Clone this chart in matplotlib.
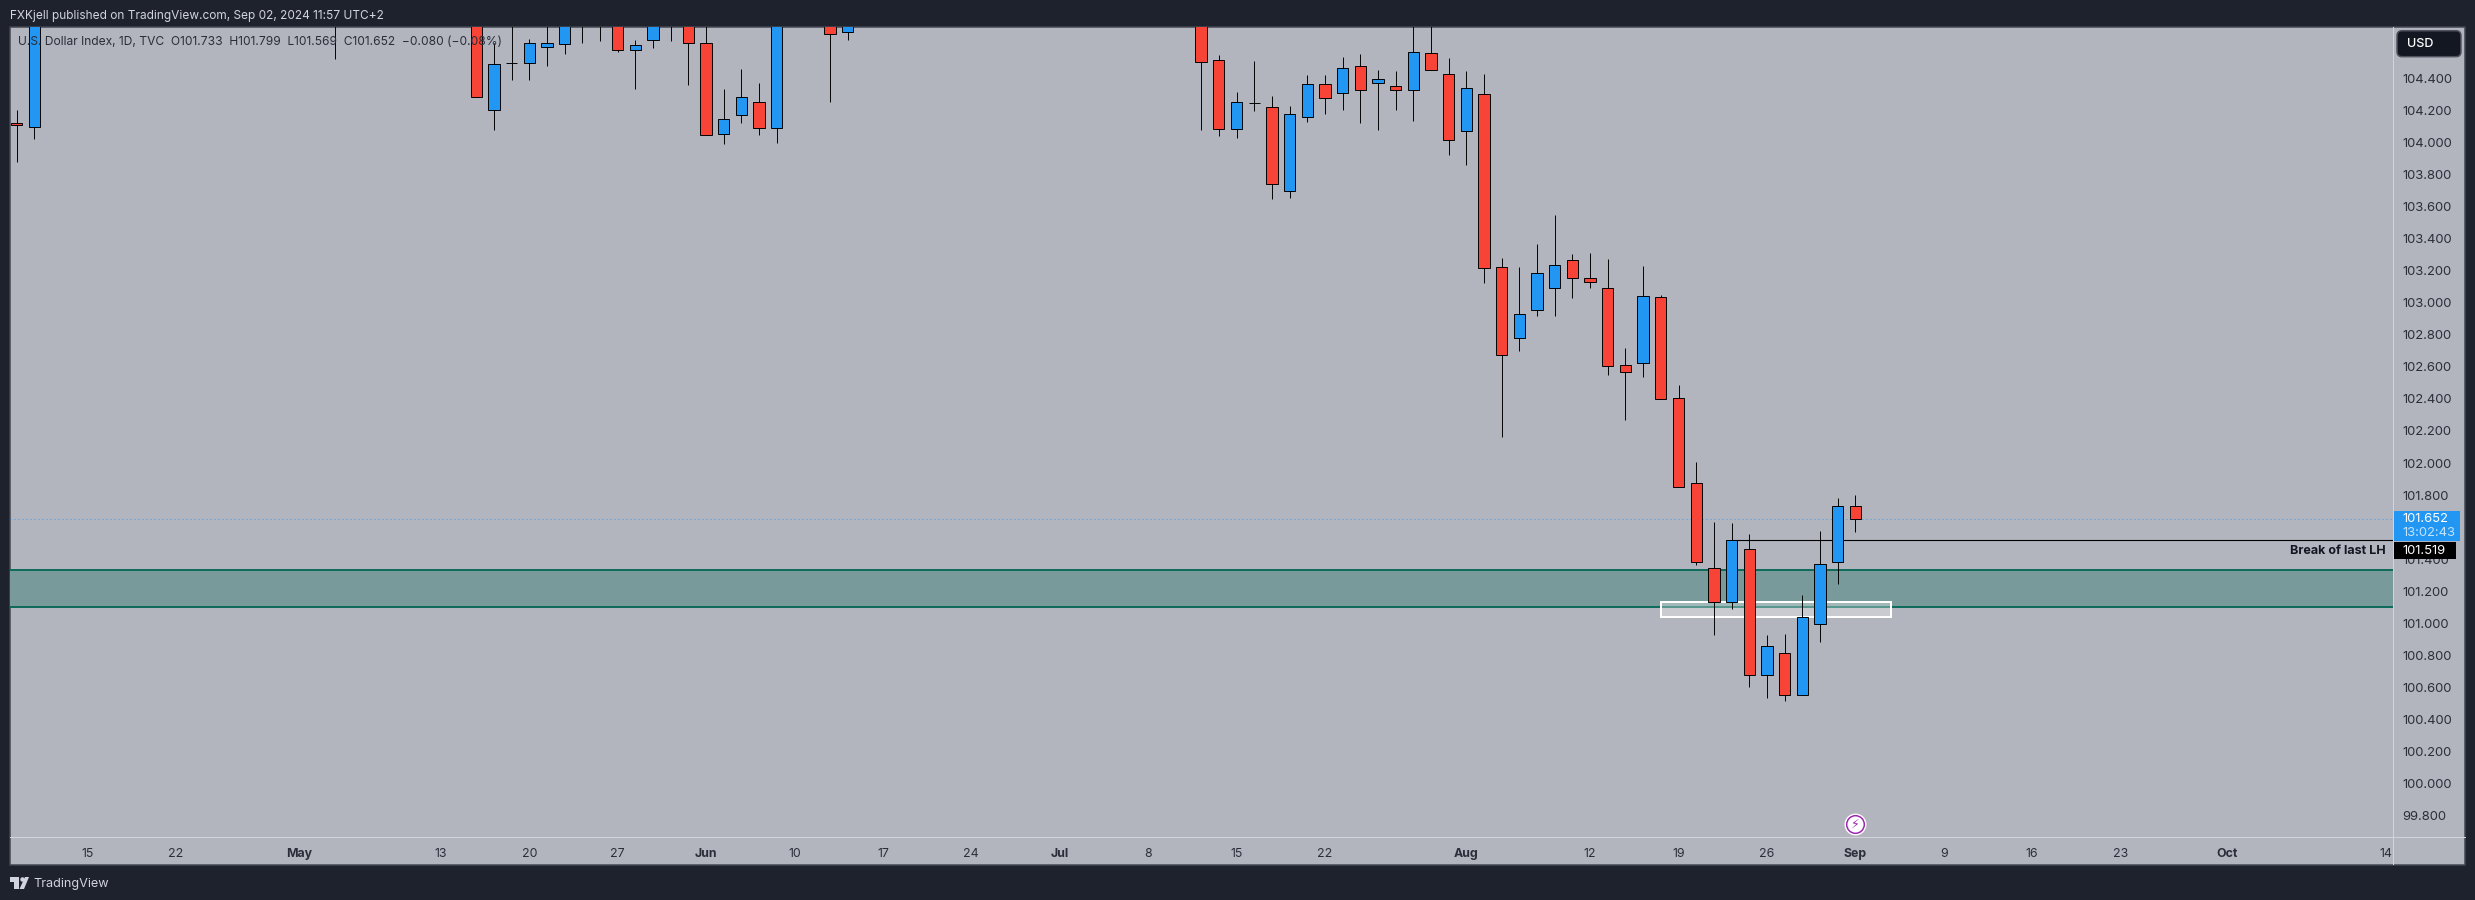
import numpy as np
import matplotlib
matplotlib.use("Agg")
import matplotlib.pyplot as plt
from matplotlib.lines import Line2D
from matplotlib.patches import Rectangle, FancyBboxPatch, Polygon

dates = ["2024-04-09","2024-04-10","2024-05-03","2024-05-15","2024-05-16","2024-05-17","2024-05-20",
         "2024-05-21","2024-05-22","2024-05-23","2024-05-24","2024-05-27","2024-05-28","2024-05-29",
         "2024-05-30","2024-05-31","2024-06-03","2024-06-04","2024-06-05","2024-06-06","2024-06-07",
         "2024-06-12","2024-06-13",
         "2024-07-11","2024-07-12","2024-07-15","2024-07-16","2024-07-17","2024-07-18","2024-07-19",
         "2024-07-22","2024-07-23","2024-07-24","2024-07-25","2024-07-26","2024-07-29","2024-07-30",
         "2024-07-31","2024-08-01","2024-08-02","2024-08-05","2024-08-06","2024-08-07","2024-08-08",
         "2024-08-09","2024-08-12","2024-08-13","2024-08-14","2024-08-15","2024-08-16","2024-08-19",
         "2024-08-20","2024-08-21","2024-08-22","2024-08-23","2024-08-26","2024-08-27","2024-08-28",
         "2024-08-29","2024-08-30","2024-09-02"]
opens = [104.119,104.094,104.900,105.100,104.200,104.494,104.494,104.593,104.612,104.800,104.800,
         104.900,104.575,104.637,104.800,104.900,104.618,104.051,104.169,104.250,104.088,104.900,104.687,
         104.900,104.512,104.082,104.244,104.219,103.695,104.157,104.363,104.306,104.475,104.369,104.350,
         104.325,104.556,104.425,104.069,104.300,103.221,102.778,102.953,103.090,103.265,103.152,103.090,
         102.610,102.622,103.034,102.404,101.874,101.343,101.131,101.462,100.676,100.813,100.551,100.994,
         101.381,101.733]
highs = [104.202,105.300,105.100,105.200,104.620,104.900,104.645,104.800,104.950,105.100,105.100,
         105.000,104.639,104.950,105.100,105.000,104.900,104.333,104.458,104.371,105.100,105.000,104.950,
         105.000,104.545,104.313,104.508,104.288,104.225,104.421,104.421,104.533,104.552,104.452,104.446,
         104.900,104.900,104.527,104.446,104.427,103.279,103.223,103.366,103.547,103.304,103.310,103.273,
         102.718,103.229,103.048,102.485,102.006,101.632,101.626,101.557,100.927,100.933,101.177,101.576,
         101.782,101.799]
lows = [103.880,104.023,104.520,104.282,104.079,104.391,104.391,104.479,104.553,104.622,104.635,
        104.566,104.335,104.591,104.635,104.360,104.044,103.992,104.123,104.048,103.998,104.254,104.641,
        104.079,104.042,104.030,104.198,103.649,103.655,104.129,104.179,104.204,104.123,104.079,104.204,
        104.136,104.450,103.923,103.861,103.125,102.164,102.701,102.919,102.919,103.031,103.094,102.551,
        102.270,102.539,102.398,101.849,101.366,100.929,101.091,100.605,100.536,100.517,100.551,100.885,
        101.247,101.569]
closes = [104.107,105.200,105.000,104.282,104.487,104.494,104.618,104.618,104.850,105.000,105.000,
          104.575,104.606,104.850,105.000,104.618,104.044,104.144,104.285,104.088,105.000,104.678,104.850,
          104.500,104.082,104.250,104.244,103.739,104.175,104.363,104.275,104.462,104.325,104.394,104.325,
          104.562,104.450,104.013,104.338,103.215,102.672,102.928,103.184,103.233,103.152,103.127,102.603,
          102.566,103.040,102.398,101.849,101.381,101.135,101.518,100.676,100.857,100.551,101.038,101.368,
          101.730,101.652]

price_ticks = [99.8,100.0,100.2,100.4,100.6,100.8,101.0,101.2,101.4,101.6,101.8,102.0,102.2,102.4,102.6,
               102.8,103.0,103.2,103.4,103.6,103.8,104.0,104.2,104.4]
time_tick_dates = ["2024-04-15","2024-04-22","2024-05-01","2024-05-13","2024-05-20","2024-05-27","2024-06-03",
                   "2024-06-10","2024-06-17","2024-06-24","2024-07-01","2024-07-08","2024-07-15","2024-07-22",
                   "2024-08-01","2024-08-12","2024-08-19","2024-08-26","2024-09-02","2024-09-09","2024-09-16",
                   "2024-09-23","2024-10-01","2024-10-14"]
time_tick_labels = ["15","22","May","13","20","27","Jun","10","17","24","Jul","8","15","22","Aug","12","19",
                    "26","Sep","9","16","23","Oct","14"]
months = {"May","Jun","Jul","Aug","Sep","Oct"}

zone_low, zone_high = 101.104, 101.333
box_low, box_high = 101.040, 101.133
box_start, box_end = "2024-08-16", "2024-09-04"
break_level = 101.519
break_start = "2024-08-22"
break_text = "Break of last LH"
countdown = "13:02:43"
header = "FXKjell published on TradingView.com, Sep 02, 2024 11:57 UTC+2"
legend = "U.S. Dollar Index, 1D, TVC  O101.733  H101.799  L101.569  C101.652  \u22120.080 (\u22120.08%)"

W, H = 2475, 900
DARK, PANE = "#1E222D", "#B2B5BE"
BLUE, RED = "#2196F3", "#F84436"
INK = "#2A2E39"
plt.rcParams["font.family"] = ["Inter", "DejaVu Sans"]
px = 0.72  # one pixel in points

fig = plt.figure(figsize=(W/100, H/100), dpi=100, facecolor=DARK)
fx = lambda x: x / W
fy = lambda y: 1 - y / H

fig.add_artist(Rectangle((fx(10), fy(864.5)), 2455/W, 837.5/H, transform=fig.transFigure,
                         facecolor=PANE, edgecolor="#434651", lw=px*1.5, zorder=-2))
ax = fig.add_axes([fx(10), fy(837.3), 2383/W, (837.3-27)/H], facecolor="none", zorder=0)

anchor = "2024-09-02"
bd = lambda d: np.busday_count(anchor, d)
xs = np.array([bd(d) for d in dates], dtype=float)
o, h, l, c = map(np.array, (opens, highs, lows, closes))

step, x0 = 17.68, 1855.3
ax.set_xlim((10-x0)/step, (2393-x0)/step)
ax.set_ylim(104.4-(837.3-78.3)/160.3, 104.4+(78.3-27)/160.3)

# zone, box, lines
ax.axhspan(zone_low, zone_high, facecolor="#789A9A", edgecolor="none", zorder=1)
ax.axhline(zone_high, color="#0F6B5C", lw=px*2, zorder=1.2)
ax.axhline(zone_low, color="#0F6B5C", lw=px*2, zorder=1.2)
ax.add_patch(Rectangle((bd(box_start), box_low), bd(box_end)-bd(box_start), box_high-box_low,
                       facecolor=(1, 1, 1, 0.3), edgecolor="white", lw=px*2, zorder=1.4))
ax.axhline(closes[-1], color=BLUE, lw=px, ls=(0, (1, 3)), alpha=0.8, zorder=1.5)
ax.plot([bd(break_start), 31], [break_level]*2, color="black", lw=px*1.1, zorder=1.6)

# candles
up = c >= o
ax.vlines(xs, l, h, colors="black", lw=px*0.95, zorder=2)
bw = 11.3 / step
ax.bar(xs, np.abs(c-o), bottom=np.minimum(o, c), width=bw,
       color=[BLUE if u else RED for u in up], edgecolor="black", linewidth=px*0.95, zorder=3)

fig.text(fx(2386), fy(550.7), break_text, ha="right", va="center", fontsize=9.0, fontweight="bold",
         color="#131722", zorder=3)

# axes furniture
for s in ax.spines.values():
    s.set_visible(False)
ax.yaxis.tick_right()
ax.set_yticks(price_ticks)
ax.set_yticklabels([f"{p:.3f}" for p in price_ticks], fontsize=9.4, color=INK)
ax.tick_params(axis="y", length=0, pad=6.9)
ax.set_xticks([bd(d) for d in time_tick_dates])
ax.set_xticklabels(time_tick_labels, fontsize=8.9, color=INK)
for t, s in zip(ax.get_xticklabels(), time_tick_labels):
    if s in months:
        t.set_fontweight("bold")
ax.tick_params(axis="x", length=0, pad=8.0)

fig.add_artist(Line2D([fx(10), fx(2465)], [fy(837.3)]*2, color="#D1D4DC", lw=px, zorder=0.5))
fig.add_artist(Line2D([fx(2393)]*2, [fy(27), fy(864)], color="#D1D4DC", lw=px, zorder=0.5))

# price labels
def ybox(y0, y1, color, x1):
    fig.add_artist(FancyBboxPatch((fx(2394), fy(y1)), (x1-2394)/W, (y1-y0)/H, boxstyle="square,pad=0",
                                  transform=fig.transFigure, facecolor=color, edgecolor="none", zorder=2))
ybox(511, 541, BLUE, 2460)
ybox(542, 559, "black", 2456)
fig.text(fx(2402.7), fy(519.5), f"{closes[-1]:.3f}", color="white", fontsize=9.4, va="center", zorder=3)
fig.text(fx(2402.7), fy(533.5), countdown, color="#C5E3FB", fontsize=9.4, va="center", zorder=3)
fig.text(fx(2402.7), fy(550.7), f"{break_level:.3f}", color="white", fontsize=9.4, va="center", zorder=3)

# USD button
fig.add_artist(FancyBboxPatch((fx(2399), fy(54.7)), 60/W, 22/H, boxstyle="round,pad=0.0008,rounding_size=0.002",
                              transform=fig.transFigure, facecolor="#131722", edgecolor="#50535E", lw=px*1.5,
                              mutation_aspect=W/H, zorder=2))
fig.text(fx(2406.7), fy(43.7), "USD", color="white", fontsize=9.1, fontweight="medium", va="center", zorder=3)

# header / legend / footer
fig.text(fx(10), fy(15.7), header, color="#D1D4DC", fontsize=8.55, va="center", zorder=3)
fig.text(fx(18.4), fy(42.3), legend, color=INK, fontsize=8.65, va="center", zorder=3)
fig.text(fx(33), fy(884), "TradingView", color="#D1D4DC", fontsize=9.1, va="center", zorder=3)

# logo
def poly(pts, color="#D1D4DC"):
    fig.add_artist(Polygon([(fx(a), fy(b)) for a, b in pts], closed=True, transform=fig.transFigure,
                           facecolor=color, edgecolor="none", zorder=3))
poly([(10, 877), (19, 877), (19, 889), (14, 889), (14, 882), (10, 882)])
poly([(25, 877), (29, 877), (24, 889), (19.5, 889)])
fig.add_artist(Line2D([fx(21.5)], [fy(879.3)], marker="o", ms=3.2, mfc="#D1D4DC", mec="none",
                      transform=fig.transFigure, zorder=3))

# flash marker on the last bar
fx_m = fx(x0 + step*bd("2024-09-02"))
for ms, col in [(15.8, "white"), (13.8, "#9C27B0"), (11.6, "white")]:
    fig.add_artist(Line2D([fx_m], [fy(824.3)], marker="o", ms=ms, mfc=col, mec="none",
                          transform=fig.transFigure, zorder=3))
fig.text(fx_m, fy(824.3), "\u26A1", family="DejaVu Sans", color="#9C27B0", fontsize=9, ha="center", va="center", zorder=4)

fig.savefig("out.png", dpi=100, facecolor=DARK)
